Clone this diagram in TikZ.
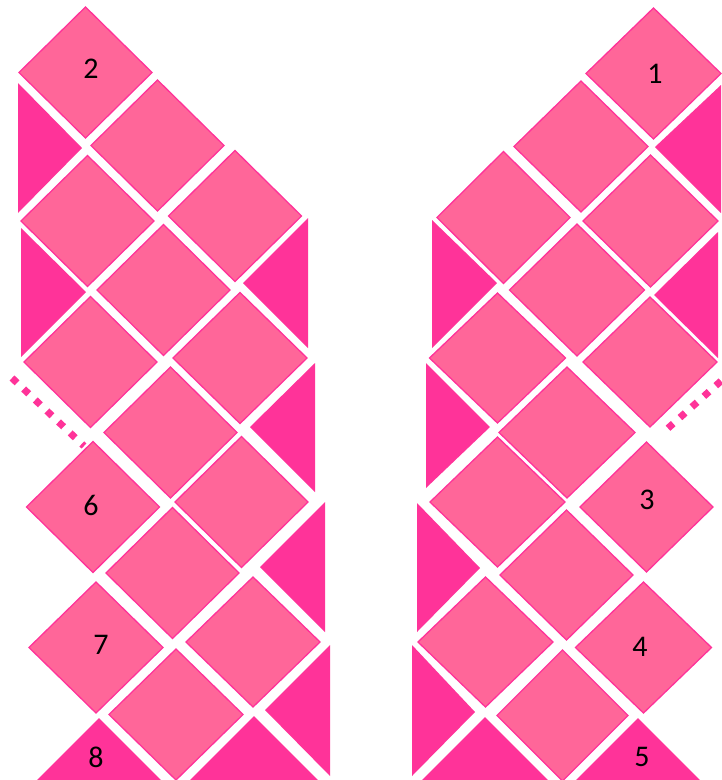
\documentclass[tikz,border=0pt]{standalone}
\usepackage{fontspec}
\setmainfont{Carlito}
\definecolor{dpink}{HTML}{FF6699}
\definecolor{tpink}{HTML}{FF3399}
\tikzset{
  dia/.style={fill=dpink, draw=tpink, line width=1.3pt, line join=miter},
  tri/.style={fill=tpink},
  dots/.style={draw=tpink, line width=7pt, dash pattern=on 7pt off 9pt},
  lbl/.style={font=\fontsize{30}{33}\selectfont, text=black, inner sep=0pt}
}
% \dmd{cx}{cy}{half-width}{half-height}
\newcommand{\dmd}[4]{\path[dia] ({#1-#3},{#2}) -- ({#1},{#2-#4}) -- ({#1+#3},{#2}) -- ({#1},{#2+#4}) -- cycle;}
\begin{document}
\begin{tikzpicture}[x=1pt,y=-1pt]
\useasboundingbox (0,0) rectangle (722,780);
\clip (0,0) rectangle (722,780);
% ---------- left column ----------
\dmd{85.5}{72.5}{66.5}{65.5}
\dmd{157.5}{145.5}{66.5}{65.5}
\dmd{235}{216}{66.5}{65.5}
\dmd{87.5}{221}{66.5}{65.5}
\dmd{163.5}{290}{66.5}{65.5}
\dmd{90.5}{362}{66.5}{65.5}
\dmd{240}{358}{67}{65.5}
\dmd{170.5}{432.5}{66.5}{65.5}
\dmd{93}{507}{66.5}{65.5}
\dmd{241.5}{502}{66.5}{65.5}
\dmd{172.5}{573}{66.5}{65.5}
\dmd{96}{647.5}{67}{65.5}
\dmd{253}{642}{67}{65}
\dmd{176}{714.5}{67}{65.5}
\path[tri] (18,83) -- (18,213) -- (82,148) -- cycle;
\path[tri] (21,228) -- (21,357) -- (86,292) -- cycle;
\path[tri] (308,218) -- (308,348) -- (243,283) -- cycle;
\path[tri] (315,363) -- (315,492) -- (250,427) -- cycle;
\path[tri] (325,502) -- (325,632) -- (260,567) -- cycle;
\path[tri] (330,645) -- (330,776) -- (265,710) -- cycle;
\path[tri] (99,718) -- (27,790) -- (171,790) -- cycle;
\path[tri] (254,716) -- (180,790) -- (328,790) -- cycle;
\coordinate (la) at (12,378);
\coordinate (lb) at (84,446);
\draw[dots] (la) -- (lb);
% ---------- right column ----------
\dmd{653.5}{73.5}{67.5}{65.5}
\dmd{581}{146.5}{67}{65.5}
\dmd{503.5}{217.5}{66.5}{66}
\dmd{650.5}{221}{67.5}{66}
\dmd{577}{290}{67.5}{66}
\dmd{497.5}{358}{68}{65}
\dmd{650}{362}{67}{65}
\dmd{567}{432.5}{68}{65.5}
\dmd{646.5}{507}{66.5}{65}
\dmd{497.5}{502}{67.5}{65}
\dmd{566.5}{575}{66.5}{65}
\dmd{485.5}{642}{67.5}{65}
\dmd{643.5}{647.5}{68}{65.5}
\dmd{562.5}{715.5}{65.5}{65.5}
\path[tri] (721,85) -- (721,213) -- (655,147) -- cycle;
\path[tri] (432,220) -- (432,348) -- (497,283) -- cycle;
\path[tri] (718,232) -- (718,358) -- (654,295) -- cycle;
\path[tri] (426,363) -- (426,488) -- (490,427) -- cycle;
\path[tri] (417,503) -- (417,632) -- (480,568) -- cycle;
\path[tri] (412,645) -- (412,776) -- (475,712) -- cycle;
\path[tri] (485,717) -- (412,790) -- (558,790) -- cycle;
\path[tri] (638,718) -- (566,790) -- (710,790) -- cycle;
\coordinate (ra) at (721,381);
\coordinate (rb) at (666,430);
\draw[dots] (ra) -- (rb);
% ---------- labels ----------
\node[lbl] (n2) at (91,69) {2};
\node[lbl] (n1) at (655,74) {1};
\node[lbl] (n3) at (647,500) {3};
\node[lbl] (n4) at (640,647) {4};
\node[lbl] (n5) at (642,757) {5};
\node[lbl] (n6) at (91,505) {6};
\node[lbl] (n7) at (101,645) {7};
\node[lbl] (n8) at (96,757) {8};
\end{tikzpicture}
\end{document}
